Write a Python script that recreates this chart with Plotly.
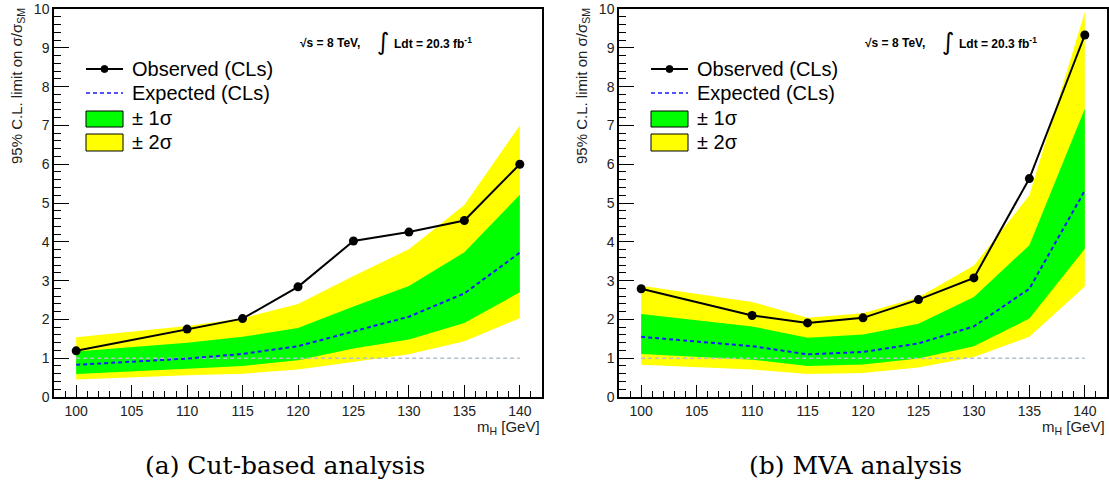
import plotly.graph_objects as go

# --- data ---
MASS = [100, 110, 115, 120, 125, 130, 135, 140]

# (a) cut-based
obs_cut = [1.19, 1.75, 2.02, 2.84, 4.02, 4.25, 4.55, 6.00]
exp_cut = [0.83, 0.99, 1.11, 1.31, 1.69, 2.07, 2.67, 3.72]
cut_1s_up = [1.17, 1.40, 1.55, 1.78, 2.33, 2.86, 3.73, 5.21]
cut_1s_dn = [0.59, 0.73, 0.80, 0.95, 1.25, 1.48, 1.91, 2.70]
cut_2s_up = [1.54, 1.83, 2.03, 2.40, 3.12, 3.81, 4.95, 7.00]
cut_2s_dn = [0.45, 0.56, 0.60, 0.71, 0.91, 1.10, 1.44, 2.03]

# (b) MVA
obs_mva = [2.79, 2.10, 1.91, 2.04, 2.51, 3.07, 5.63, 9.33]
exp_mva = [1.55, 1.31, 1.10, 1.16, 1.38, 1.82, 2.79, 5.32]
mva_1s_up = [2.14, 1.82, 1.53, 1.61, 1.89, 2.58, 3.91, 7.43]
mva_1s_dn = [1.11, 0.96, 0.80, 0.84, 0.99, 1.31, 2.02, 3.82]
mva_2s_up = [2.87, 2.45, 2.04, 2.16, 2.57, 3.39, 5.20, 9.92]
mva_2s_dn = [0.83, 0.71, 0.59, 0.62, 0.76, 1.03, 1.55, 2.85]

SM_LINE = 1.0
X_RANGE = [98, 142]
Y_RANGE = [0, 10]

CAPTIONS = ["(a) Cut-based analysis", "(b) MVA analysis"]
Y_TITLE = "95% C.L. limit on σ/σ<sub>SM</sub>"
X_TITLE = "m<sub>H</sub> [GeV]"

W, H = 1109, 486
GREEN = "#00ff00"
YELLOW = "#ffff00"
BLUE = "#1a1aff"
SANS = "Liberation Sans, Arial, sans-serif"


def fx(px):
    # window pixel -> paper fraction
    return px / W


def fy(py):
    return 1 - py / H


fig = go.Figure()

panels = [
    dict(obs=obs_cut, exp=exp_cut, s1u=cut_1s_up, s1d=cut_1s_dn, s2u=cut_2s_up, s2d=cut_2s_dn, left=54, right=542),
    dict(obs=obs_mva, exp=exp_mva, s1u=mva_1s_up, s1d=mva_1s_dn, s2u=mva_2s_up, s2d=mva_2s_dn, left=619, right=1107),
]

for i, p in enumerate(panels):
    xa = "x" if i == 0 else "x2"
    ya = "y" if i == 0 else "y2"
    # bands as closed polygons
    fig.add_trace(go.Scatter(x=MASS + MASS[::-1], y=p["s2u"] + p["s2d"][::-1], fill="toself",
                             fillcolor=YELLOW, line=dict(width=0), mode="lines",
                             xaxis=xa, yaxis=ya, showlegend=False, hoverinfo="skip"))
    fig.add_trace(go.Scatter(x=MASS + MASS[::-1], y=p["s1u"] + p["s1d"][::-1], fill="toself",
                             fillcolor=GREEN, line=dict(width=0), mode="lines",
                             xaxis=xa, yaxis=ya, showlegend=False, hoverinfo="skip"))
    # SM reference line
    fig.add_trace(go.Scatter(x=[MASS[0], MASS[-1]], y=[SM_LINE, SM_LINE], mode="lines",
                             line=dict(color="#b4c0cc", width=1.5, dash="4px,3px"),
                             xaxis=xa, yaxis=ya, showlegend=False, hoverinfo="skip"))
    fig.add_trace(go.Scatter(x=MASS, y=p["exp"], mode="lines",
                             line=dict(color=BLUE, width=2, dash="4px,3px"),
                             xaxis=xa, yaxis=ya, showlegend=False))
    fig.add_trace(go.Scatter(x=MASS, y=p["obs"], mode="lines+markers",
                             line=dict(color="black", width=2),
                             marker=dict(color="black", size=9),
                             xaxis=xa, yaxis=ya, showlegend=False))

axis_common = dict(showline=True, mirror=True, linecolor="black", linewidth=1.5, automargin=False,
                   showgrid=False, zeroline=False, ticks="inside", tickcolor="black",
                   tickwidth=1.2, tickfont=dict(family=SANS, size=14, color="#222"))

shapes = []
annotations = []
layout_axes = {}
for i, p in enumerate(panels):
    sfx = "" if i == 0 else "2"
    layout_axes["xaxis" + sfx] = dict(axis_common, domain=[fx(p["left"]), fx(p["right"])], range=X_RANGE,
                                      tick0=100, dtick=5, ticklen=12, anchor="y" + sfx,
                                      minor=dict(ticks="inside", ticklen=6, dtick=1, tick0=100,
                                                 tickcolor="black", tickwidth=1, showgrid=False))
    layout_axes["yaxis" + sfx] = dict(axis_common, domain=[fy(397), fy(9)], range=Y_RANGE,
                                      tick0=0, dtick=1, ticklen=15, anchor="x" + sfx,
                                      minor=dict(ticks="inside", ticklen=7, dtick=0.2, tick0=0,
                                                 tickcolor="black", tickwidth=1, showgrid=False))

    ox = p["left"]
    # legend (manual, ROOT style)
    shapes.append(dict(type="line", xref="paper", yref="paper", x0=fx(ox + 32), x1=fx(ox + 69),
                       y0=fy(69), y1=fy(69), line=dict(color="black", width=2)))
    shapes.append(dict(type="circle", xref="paper", yref="paper", x0=fx(ox + 47), x1=fx(ox + 54),
                       y0=fy(72.5), y1=fy(65.5), fillcolor="black", line=dict(color="black", width=1)))
    shapes.append(dict(type="line", xref="paper", yref="paper", x0=fx(ox + 32), x1=fx(ox + 69),
                       y0=fy(93), y1=fy(93), line=dict(color=BLUE, width=1.5, dash="4px,3px")))
    shapes.append(dict(type="rect", xref="paper", yref="paper", x0=fx(ox + 32), x1=fx(ox + 69),
                       y0=fy(127), y1=fy(111), fillcolor=GREEN, line=dict(color="black", width=1)))
    shapes.append(dict(type="rect", xref="paper", yref="paper", x0=fx(ox + 32), x1=fx(ox + 69),
                       y0=fy(151), y1=fy(134), fillcolor=YELLOW, line=dict(color="black", width=1)))
    for txt, yy in [("Observed (CLs)", 69), ("Expected (CLs)", 93), ("± 1σ", 118), ("± 2σ", 142)]:
        annotations.append(dict(text=txt, xref="paper", yref="paper", x=fx(ox + 76), y=fy(yy),
                                xanchor="left", yanchor="middle", showarrow=False,
                                font=dict(family=SANS, size=20, color="black")))

    # energy / luminosity label
    annotations.append(dict(text="<b>√s = 8 TeV,</b>", xref="paper", yref="paper", x=fx(ox + 244), y=fy(43),
                            xanchor="left", yanchor="middle", showarrow=False,
                            font=dict(family=SANS, size=12, color="black")))
    annotations.append(dict(text="∫", xref="paper", yref="paper", x=fx(ox + 329), y=fy(42),
                            xanchor="center", yanchor="middle", showarrow=False,
                            font=dict(family="DejaVu Sans", size=24, color="black")))
    annotations.append(dict(text="<b>Ldt = 20.3 fb<sup>-1</sup></b>", xref="paper", yref="paper",
                            x=fx(ox + 338), y=fy(43), xanchor="left", yanchor="middle", showarrow=False,
                            font=dict(family=SANS, size=12, color="black")))

    # axis titles
    annotations.append(dict(text=Y_TITLE, xref="paper", yref="paper", x=fx(ox - 37), y=fy(6),
                            xanchor="center", yanchor="top", textangle=-90, showarrow=False,
                            font=dict(family=SANS, size=15, color="#222")))
    annotations.append(dict(text=X_TITLE, xref="paper", yref="paper", x=fx(p["right"]), y=fy(427),
                            xanchor="right", yanchor="middle", showarrow=False,
                            font=dict(family=SANS, size=15, color="#222")))

annotations.append(dict(text=CAPTIONS[0], xref="paper", yref="paper", x=fx(285), y=fy(465),
                        xanchor="center", yanchor="middle", showarrow=False,
                        font=dict(family="DejaVu Serif", size=25, color="black")))
annotations.append(dict(text=CAPTIONS[1], xref="paper", yref="paper", x=fx(855), y=fy(465),
                        xanchor="center", yanchor="middle", showarrow=False,
                        font=dict(family="DejaVu Serif", size=25, color="black")))

fig.update_layout(
    width=W, height=H,
    margin=dict(l=0, r=0, t=0, b=0),
    paper_bgcolor="white", plot_bgcolor="white",
    showlegend=False,
    shapes=shapes,
    annotations=annotations,
    **layout_axes,
)

# drop the page's default 8px body margin so the figure fills the window
fig.write_html("out.html", config={"displayModeBar": False},
               post_script="document.body.style.margin='0';")
